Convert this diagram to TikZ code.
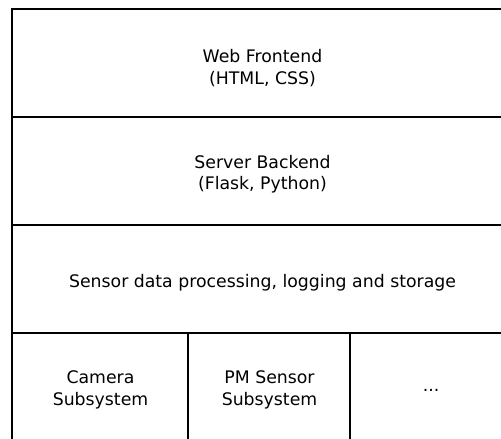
\documentclass[tikz,border=0pt]{standalone}
\usepackage{fontspec}
\setmainfont{DejaVu Sans}
\begin{document}
\begin{tikzpicture}[x=1bp,y=-1bp,
  cell/.style={draw=black,line width=2.7bp,inner sep=0pt},
  lbl/.style={align=center,font=\fontsize{17.3bp}{21.5bp}\selectfont,inner sep=0pt}]
\useasboundingbox (0,0) rectangle (501,439);
\clip (0,0) rectangle (501,439);
\draw[cell] (12,9) rectangle (513,117);
\draw[cell] (12,117) rectangle (513,225);
\draw[cell] (12,225) rectangle (513,333);
\draw[cell] (12,333) rectangle (188,443);
\draw[cell] (188,333) rectangle (350,443);
\draw[cell] (350,333) rectangle (513,443);
\node[lbl] (web) at (262.5,68) {Web Frontend\\(HTML, CSS)};
\node[lbl] (srv) at (262.5,174) {Server Backend\\(Flask, Python)};
\node[lbl] (sen) at (262.5,282.5) {Sensor data processing, logging and storage};
\node[lbl] (cam) at (100.5,390) {Camera\\Subsystem};
\node[lbl] (pm) at (269.5,390) {PM Sensor\\Subsystem};
\node[lbl] (dots) at (431,390) {...};
\end{tikzpicture}
\end{document}
